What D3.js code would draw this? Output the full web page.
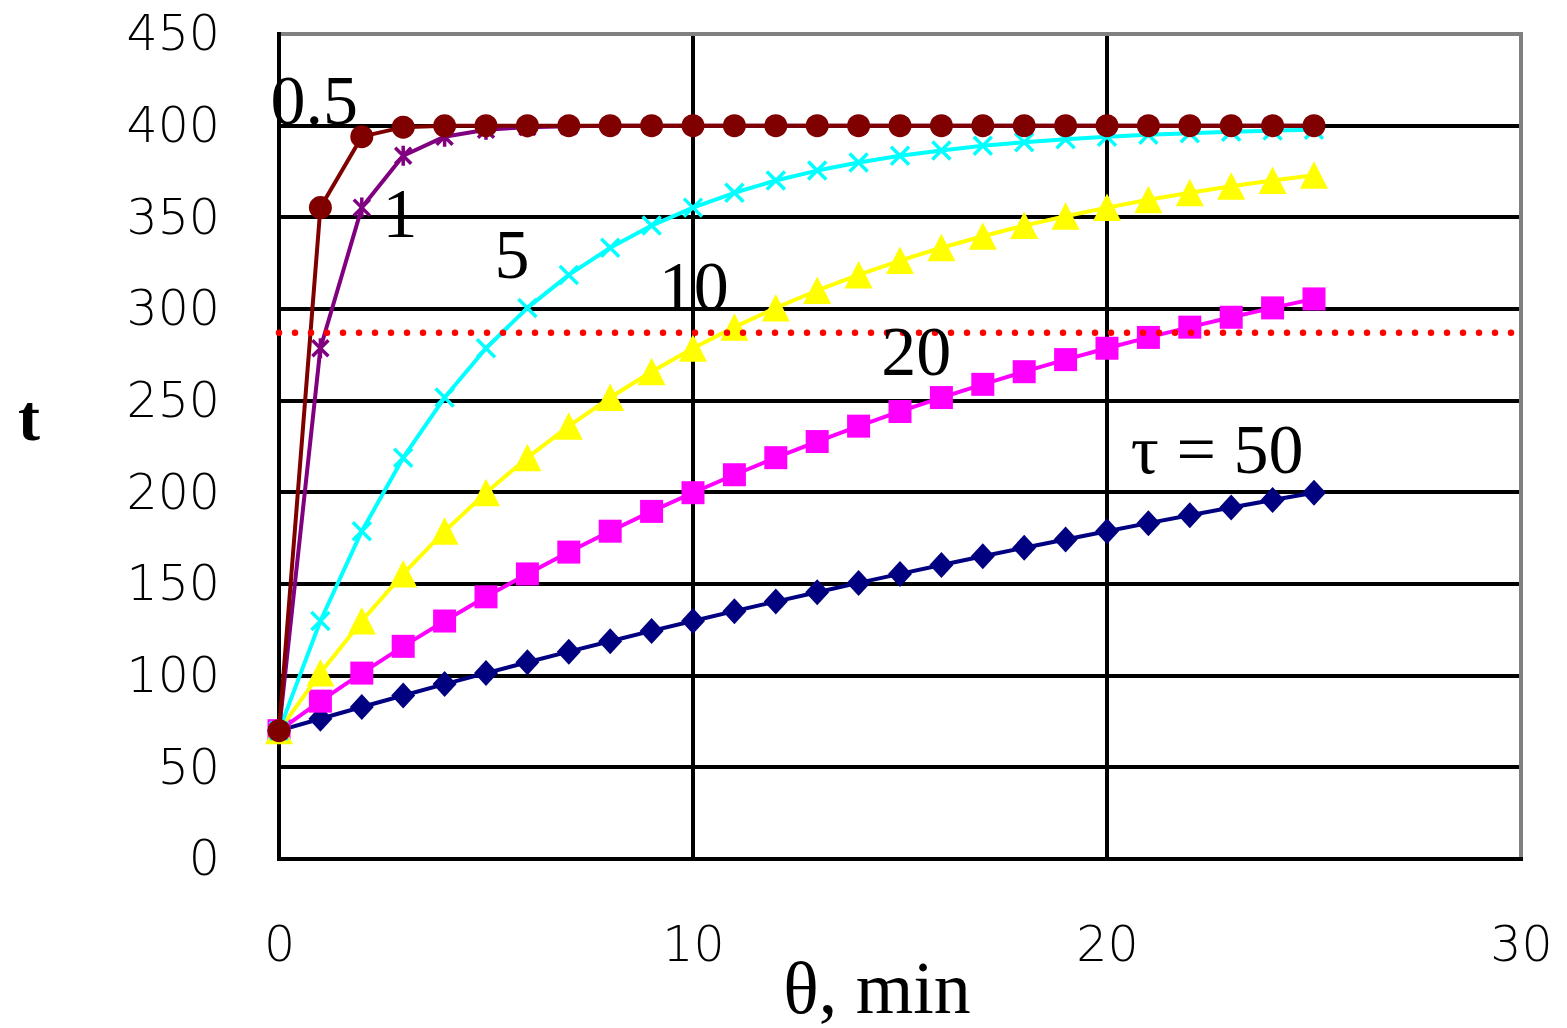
<!DOCTYPE html>
<html><head><meta charset="utf-8">
<script src="https://cdn.jsdelivr.net/npm/d3@7"></script>
<style>body{margin:0;background:#fff;} svg{display:block;}</style>
</head><body>
<svg id="c" width="1567" height="1028"></svg>
<script>
// ---- data ----
const theta = [0,1,2,3,4,5,6,7,8,9,10,11,12,13,14,15,16,17,18,19,20,21,22,23,24,25];
const tau05 = [70,355.3,394.0,399.2,399.9,400,400,400,400,400,400,400,400,400,400,400,400,400,400,400,400,400,400,400,400,400];
const tau1  = [70,278.6,355.3,383.6,394.0,397.8,399.2,399.7,399.9,400,400,400,400,400,400,400,400,400,400,400,400,400,400,400,400,400];
const tau5  = [70,129.8,178.8,218.9,251.7,278.6,300.6,318.6,333.4,345.5,355.3,363.4,370.1,375.5,379.9,383.6,386.5,389.0,391.0,392.6,394.0,395.0,395.9,396.7,397.3,397.8];
const tau10 = [70,101.4,129.8,155.5,178.8,199.8,218.9,236.1,251.7,265.8,278.6,290.1,300.6,310.1,318.6,326.4,333.4,339.7,345.5,350.6,355.3,359.6,363.4,366.9,370.1,372.9];
const tau20 = [70,86.1,101.4,116.0,129.8,143.0,155.5,167.4,178.8,189.6,199.8,209.6,218.9,227.7,236.1,244.1,251.7,258.9,265.8,272.4,278.6,284.5,290.1,295.5,300.6,305.5];
const tau50 = [70,76.5,82.9,89.2,95.4,101.4,107.3,113.1,118.8,124.4,129.8,135.2,140.4,145.5,150.6,155.5,160.4,165.1,169.8,174.3,178.8,183.2,187.5,191.7,195.8,199.8];
const limitT = 287;
const yTicks = [0,50,100,150,200,250,300,350,400,450];
const xTicks = [0,10,20,30];
const curveLabels = ["0.5","1","5","10","20","\u03C4 = 50"];
const labelTheta = [0.85, 2.92, 5.63, 10.02, 15.39, 22.66];
const labelT = [400.9, 339.3, 316.9, 299.5, 264.2, 210.5];

// ---- setup ----
const svg = d3.select("#c");
const L = 279, R = 1521, T = 34, B = 859;
const x = d3.scaleLinear().domain([0,30]).range([L,R]);
const y = d3.scaleLinear().domain([0,450]).range([B,T]);

// gridlines
const grid = svg.append("g").attr("stroke","#000").attr("stroke-width",4).attr("shape-rendering","crispEdges");
grid.selectAll("line.h").data(yTicks.filter(v=>v>0 && v<450)).join("line")
  .attr("x1",L).attr("x2",R).attr("y1",d=>y(d)).attr("y2",d=>y(d));
grid.selectAll("line.v").data(xTicks.filter(v=>v>0 && v<30)).join("line")
  .attr("y1",T).attr("y2",B).attr("x1",d=>x(d)).attr("x2",d=>x(d));

// frame
const fr = svg.append("g").attr("stroke-width",4).attr("shape-rendering","crispEdges");
fr.append("line").attr("x1",L).attr("x2",R).attr("y1",T).attr("y2",T).attr("stroke","#808080");
fr.append("line").attr("x1",R).attr("x2",R).attr("y1",T-2).attr("y2",B).attr("stroke","#808080");
fr.append("line").attr("x1",L).attr("x2",L).attr("y1",T-2).attr("y2",B+2).attr("stroke","#000");
fr.append("line").attr("x1",L-2).attr("x2",R+2).attr("y1",B).attr("y2",B).attr("stroke","#000");

// axes (labels only)
const tickFont = "'DejaVu Sans', sans-serif";
const ya = svg.append("g").attr("transform",`translate(${L},0)`)
  .call(d3.axisLeft(y).tickValues(yTicks).tickSize(0).tickPadding(59).tickFormat(d3.format("d")));
ya.select(".domain").remove();
ya.selectAll("text").attr("font-family",tickFont).attr("font-size",49).attr("font-weight",200).attr("fill","#000");

const xa = svg.append("g").attr("transform",`translate(0,${B})`)
  .call(d3.axisBottom(x).tickValues(xTicks).tickSize(0).tickPadding(67).tickFormat(d3.format("d")));
xa.select(".domain").remove();
xa.selectAll("text").attr("font-family",tickFont).attr("font-size",49).attr("font-weight",200).attr("fill","#000");

// series
const line = d3.line().x(d=>x(d[0])).y(d=>y(d[1]));
const series = [
  {v:tau50, color:"#000080", marker:"diamond"},
  {v:tau20, color:"#FF00FF", marker:"square"},
  {v:tau10, color:"#FFFF00", marker:"triangle"},
  {v:tau5,  color:"#00FFFF", marker:"x"},
  {v:tau1,  color:"#800080", marker:"star"},
  {v:tau05, color:"#800000", marker:"circle"}
];
const markerPath = {
  diamond: "M0,-13L12,0L0,13L-12,0Z",
  square: "M-11.5,-11.5H11.5V11.5H-11.5Z",
  triangle: "M0,-14L14,13.5L-14,13.5Z",
  circle: d3.symbol(d3.symbolCircle, Math.PI*11.5*11.5)(),
  x: "M-9,-9L9,9M-9,9L9,-9",
  star: "M-8,-8L8,8M-8,8L8,-8M0,-10V10"
};
series.forEach(s=>{
  const pts = theta.map((th,i)=>[th,s.v[i]]);
  const g = svg.append("g");
  g.append("path").datum(pts).attr("d",line).attr("fill","none")
    .attr("stroke",s.color).attr("stroke-width",4).attr("stroke-linejoin","round");
  const filled = !(s.marker==="x" || s.marker==="star");
  g.selectAll("path.m").data(pts).join("path").attr("class","m")
    .attr("transform",d=>`translate(${x(d[0])},${y(d[1])})`)
    .attr("d",markerPath[s.marker])
    .attr("fill",filled ? s.color : "none")
    .attr("stroke",filled ? "none" : s.color)
    .attr("stroke-width",3.5);
});

// red dotted limit line
svg.append("line").attr("x1",x(0)).attr("x2",x(30)).attr("y1",y(limitT)).attr("y2",y(limitT))
  .attr("stroke","#FF0000").attr("stroke-width",6.5).attr("stroke-linecap","round")
  .attr("stroke-dasharray","0,16");

// curve labels
svg.append("g").selectAll("text").data(curveLabels).join("text")
  .attr("x",(d,i)=>x(labelTheta[i])).attr("y",(d,i)=>y(labelT[i]))
  .attr("text-anchor","middle")
  .attr("font-family","'Liberation Serif','Times New Roman',serif")
  .attr("font-size",70).attr("fill","#000").text(d=>d);

// axis titles
svg.append("text").attr("x",29).attr("y",440).attr("text-anchor","middle")
  .attr("font-family","'Liberation Serif','Times New Roman',serif").attr("font-weight","bold")
  .attr("font-size",66).text("t");
svg.append("text").attr("x",877).attr("y",1013).attr("text-anchor","middle")
  .attr("font-family","'Liberation Serif','Times New Roman',serif")
  .attr("font-size",74).text("\u03B8, min");
</script>
</body></html>
